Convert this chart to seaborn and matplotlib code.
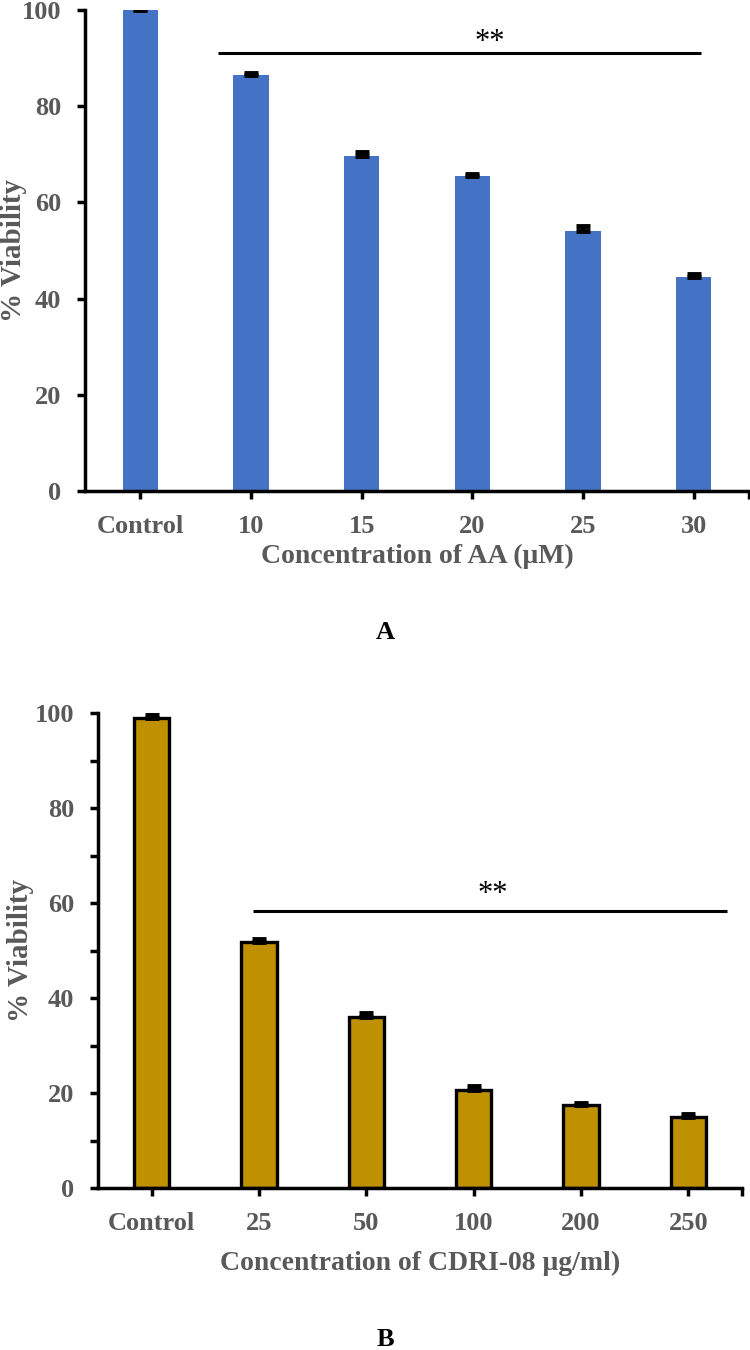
import matplotlib
matplotlib.use("Agg")
import matplotlib.pyplot as plt
import seaborn as sns
import numpy as np
import pandas as pd
from matplotlib.ticker import MultipleLocator

# data
aa_labels = ["Control", "10", "15", "20", "25", "30"]
aa_viability = [100.0, 86.4, 69.6, 65.5, 54.1, 44.4]
aa_err = [0.2, 0.5, 0.8, 0.5, 0.9, 0.8]

cdri_labels = ["Control", "25", "50", "100", "200", "250"]
cdri_viability = [99.0, 51.8, 35.9, 20.7, 17.4, 14.9]
cdri_err = [0.7, 0.7, 0.9, 0.8, 0.4, 0.7]

# ** significance bars: (x start, x end, line y, text x, text y)
aa_sig = (0.7, 5.07, 91.0, 3.16, 93.3)
cdri_sig = (0.94, 5.36, 58.3, 3.18, 61.8)

sns.set_theme(style="white")
plt.rcParams['font.family'] = ['Liberation Serif', 'DejaVu Serif']
plt.rcParams['font.weight'] = 'bold'

gray = "#595959"

fig = plt.figure(figsize=(7.5, 13.5), dpi=100)
fig.patch.set_facecolor("white")


def draw_panel(ax, labels, vals, errs, sig, color, edge, width, xlabel,
               ylab_x, xlab_y, minor):
    df = pd.DataFrame({"conc": labels, "viability": vals})
    sns.barplot(data=df, x="conc", y="viability", color=color, width=width,
                edgecolor=edge, linewidth=2.4 if edge != "none" else 0,
                saturation=1, errorbar=None, ax=ax, zorder=2)
    ax.errorbar(np.arange(len(vals)), vals, yerr=[np.zeros(len(errs)), errs],
                fmt="none", ecolor="black", elinewidth=2.8, capsize=4.8,
                capthick=3.5, zorder=3)

    ax.set_xlim(-0.5, 5.5)
    ax.set_ylim(0, 100)
    ax.set_yticks(np.arange(0, 101, 20))
    ax.set_xticks(list(range(len(labels))) + [5.5])
    ax.set_xticklabels(labels + [""])
    if minor:
        ax.yaxis.set_minor_locator(MultipleLocator(10))
        ax.tick_params(axis="y", which="minor", length=6, width=2.5,
                       color="black", left=True)

    for s in ["top", "right"]:
        ax.spines[s].set_visible(False)
    for s in ["left", "bottom"]:
        ax.spines[s].set_color("black")
        ax.spines[s].set_linewidth(2.5)
        ax.spines[s].set_zorder(4)

    ax.tick_params(axis="both", which="major", length=6, width=2.5,
                   color="black", labelsize=19, labelcolor=gray,
                   bottom=True, left=True)
    ax.tick_params(axis="x", pad=11)
    ax.tick_params(axis="y", pad=11)
    for t in ax.get_xticklabels() + ax.get_yticklabels():
        t.set_fontweight("bold")

    ax.set_xlabel(xlabel, fontsize=20, fontweight="bold", color=gray)
    ax.xaxis.label.set_va("center")
    ax.xaxis.set_label_coords(0.5, xlab_y)
    ax.set_ylabel("% Viability", fontsize=21, fontweight="bold", color=gray)
    ax.yaxis.label.set_va("center")
    ax.yaxis.set_label_coords(ylab_x, 0.5)

    x0, x1, ly, tx, ty = sig
    ax.plot([x0, x1], [ly, ly], color="black", lw=2.2, zorder=3,
            solid_capstyle="butt")
    ax.text(tx, ty, "**", ha="center", va="center", fontsize=22,
            fontweight="normal", color="black")
    ax.grid(False)
    ax.set_facecolor("white")


ax1 = fig.add_axes([85 / 750, 1 - 491 / 1350, 664 / 750, 481 / 1350])
draw_panel(ax1, aa_labels, aa_viability, aa_err, aa_sig, "#4472C4", "none",
           0.32, "Concentration of AA (\u03bcM)", -0.108, -0.136, False)

ax2 = fig.add_axes([98 / 750, 1 - 1188 / 1350, 644 / 750, 475 / 1350])
draw_panel(ax2, cdri_labels, cdri_viability, cdri_err, cdri_sig, "#BF9000",
           "black", 0.33, "Concentration of CDRI-08 \u03bcg/ml)", -0.12,
           -0.158, True)

fig.text(385 / 750, 1 - 632 / 1350, "A", ha="center", va="center",
         fontsize=19, fontweight="bold", color="black")
fig.text(385 / 750, 1 - 1339 / 1350, "B", ha="center", va="center",
         fontsize=19, fontweight="bold", color="black")

fig.savefig("out.png", dpi=100, facecolor="white")
